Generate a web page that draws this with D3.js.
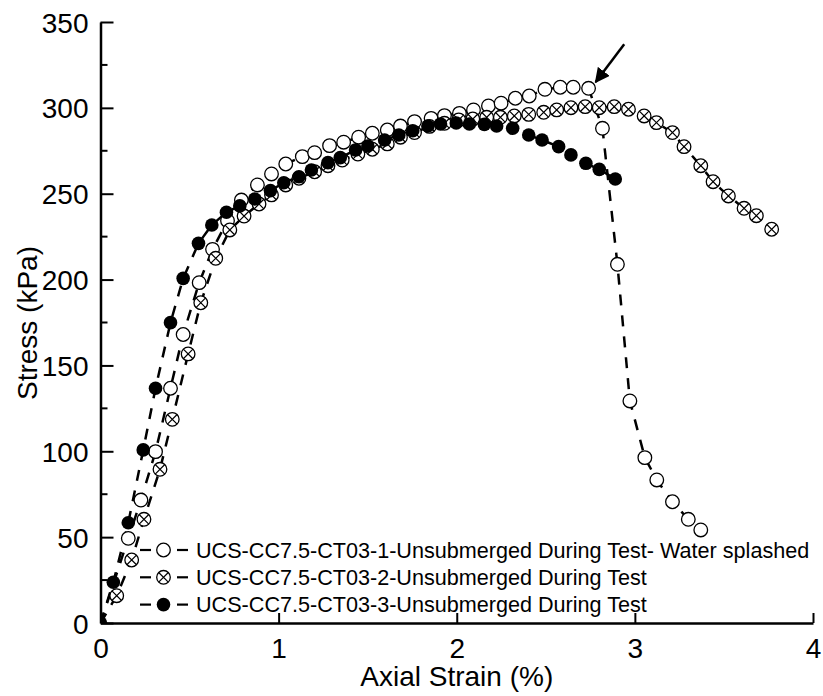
<!DOCTYPE html>
<html>
<head>
<meta charset="utf-8">
<script src="https://cdn.jsdelivr.net/npm/d3@7"></script>
<style>
  body { margin: 0; background: #fff; }
  svg { font-family: "Liberation Sans", Arial, sans-serif; }
</style>
</head>
<body>
<div id="chart"></div>
<script>
// Stress-strain data (strain in %, stress in kPa)
var s1Strain = [0, 0.156, 0.227, 0.309, 0.393, 0.464, 0.554, 0.629, 0.713, 0.791, 0.881, 0.96, 1.04, 1.133, 1.202, 1.286, 1.365, 1.449, 1.526, 1.61, 1.684, 1.763, 1.856, 1.931, 2.015, 2.094, 2.178, 2.249, 2.329, 2.407, 2.495, 2.581, 2.654, 2.74, 2.818, 2.902, 2.972, 3.056, 3.123, 3.211, 3.3, 3.37, 3.44];
var s1Stress = [0, 49.3, 71.6, 99.8, 136.7, 168, 198.2, 217.6, 234.3, 246.3, 255.1, 261.5, 267.3, 271.6, 273.9, 278, 280, 282.9, 285.2, 287.1, 289.4, 292, 293.9, 295.5, 296.8, 298.8, 301.1, 302.7, 305.6, 306.9, 310.8, 312, 312, 311.4, 288.1, 208.9, 129.3, 96.3, 83.3, 70.6, 60.4, 54.2, 50];

var s2Strain = [0, 0.091, 0.175, 0.244, 0.334, 0.403, 0.492, 0.563, 0.647, 0.726, 0.806, 0.89, 0.96, 1.04, 1.114, 1.202, 1.277, 1.357, 1.445, 1.526, 1.61, 1.684, 1.763, 1.847, 1.931, 2.011, 2.09, 2.168, 2.245, 2.323, 2.404, 2.488, 2.561, 2.641, 2.721, 2.8, 2.884, 2.964, 3.052, 3.121, 3.211, 3.276, 3.37, 3.439, 3.525, 3.613, 3.682, 3.768];
var s2Stress = [0, 15.9, 36.7, 60.4, 89.5, 118.6, 156.7, 186.5, 212.4, 228.9, 237, 244, 249.3, 255.1, 259, 262.8, 266.3, 269.6, 273.1, 275.9, 279, 282.9, 285.6, 289.2, 291, 293, 293.5, 294.5, 294.5, 295.3, 296.2, 297.4, 298.8, 300.1, 300.7, 300.1, 300.7, 299.2, 295.3, 291.4, 285.6, 277.4, 266.3, 257, 248.7, 241.5, 237.2, 229.3];

var s3Strain = [0, 0.072, 0.156, 0.24, 0.309, 0.393, 0.464, 0.55, 0.625, 0.707, 0.782, 0.866, 0.954, 1.029, 1.114, 1.184, 1.277, 1.346, 1.432, 1.501, 1.595, 1.675, 1.753, 1.838, 1.909, 1.997, 2.071, 2.155, 2.224, 2.314, 2.404, 2.479, 2.572, 2.641, 2.725, 2.8, 2.89];
var s3Stress = [0, 23.7, 58.4, 100.8, 136.7, 174.9, 200.7, 221.1, 231.8, 239.2, 242.9, 246.9, 251.8, 256.4, 259.9, 263.8, 268.1, 271, 275.5, 277.8, 281.3, 284.2, 286.7, 289.4, 290.6, 291.2, 290.6, 290.4, 289.4, 288.1, 284.2, 281.3, 277.4, 272.6, 267.7, 264.2, 258.6];

var seriesNames = [
  "UCS-CC7.5-CT03-1-Unsubmerged During Test- Water splashed",
  "UCS-CC7.5-CT03-2-Unsubmerged During Test",
  "UCS-CC7.5-CT03-3-Unsubmerged During Test"
];
var markerTypes = ["open", "cross", "filled"];

var xTicks = [0, 1, 2, 3, 4];
var yTicks = [0, 50, 100, 150, 200, 250, 300, 350];
var yMinorTicks = [25, 75, 125, 175, 225, 275, 325];

// arrow annotation (data units): tail -> head
var arrowFrom = [2.94, 337];
var arrowTo = [2.78, 315];

// chart setup
var svgWidth = 823;
var svgHeight = 696;
var margin = { top: 22, right: 10, bottom: 73, left: 100.5 };
var width = 813 - margin.left;
var height = svgHeight - margin.top - margin.bottom;

var svg = d3.select("#chart")
  .append("svg")
  .attr("width", svgWidth)
  .attr("height", svgHeight);

svg.append("rect").attr("width", svgWidth).attr("height", svgHeight).attr("fill", "#fff");

var chartGroup = svg.append("g")
  .attr("transform", `translate(${margin.left}, ${margin.top})`);

var xScale = d3.scaleLinear().domain([0, 4]).range([0, width]);
var yScale = d3.scaleLinear().domain([0, 350]).range([height, 0]);

svg.append("defs").append("clipPath").attr("id", "plotclip")
  .append("rect").attr("x", 0).attr("y", -20).attr("width", width + 20).attr("height", height + 20);

var series = [
  { x: s1Strain, y: s1Stress, lineOnlyTail: 1 },
  { x: s2Strain, y: s2Stress, lineOnlyTail: 0 },
  { x: s3Strain, y: s3Stress, lineOnlyTail: 0 }
].map(function(s, i) {
  var pts = s.x.map(function(v, j) { return { x: v, y: s.y[j], idx: j }; });
  return { pts: pts, type: markerTypes[i], tail: s.lineOnlyTail };
});

var line = d3.line().x(d => xScale(d.x)).y(d => yScale(d.y));

var plot = chartGroup.append("g").attr("clip-path", "url(#plotclip)");

var R = 6.8;

function drawMarker(g, type) {
  if (type === "filled") {
    g.append("circle").attr("r", R).attr("fill", "#000");
  } else {
    g.append("circle").attr("r", R).attr("fill", "#fff")
      .attr("stroke", "#000").attr("stroke-width", 1.3);
    if (type === "cross") {
      var k = R * 0.7071;
      g.append("path")
        .attr("d", `M${-k},${-k}L${k},${k}M${-k},${k}L${k},${-k}`)
        .attr("stroke", "#000").attr("stroke-width", 1.2);
    }
  }
}

series.forEach(function(s) {
  plot.append("path")
    .datum(s.pts)
    .attr("fill", "none")
    .attr("stroke", "#000")
    .attr("stroke-width", 2.5)
    .attr("stroke-dasharray", "11,10")
    .attr("d", line);
});

series.forEach(function(s) {
  var markPts = s.pts.filter(function(d) {
    if (s.tail && d.idx >= s.pts.length - s.tail) return false;
    if (d.x === 0 && s.type !== "filled") return false;
    return true;
  });
  plot.selectAll(null)
    .data(markPts)
    .enter()
    .append("g")
    .attr("transform", d => `translate(${xScale(d.x)},${yScale(d.y)})`)
    .each(function() { drawMarker(d3.select(this), s.type); });
});

// axes
var bottomAxis = d3.axisBottom(xScale).tickValues(xTicks).tickSizeInner(-10).tickSizeOuter(0).tickPadding(15).tickFormat(d3.format("d"));
var leftAxis = d3.axisLeft(yScale).tickValues(yTicks).tickSizeInner(-13).tickSizeOuter(0).tickPadding(12).tickFormat(d3.format("d"));

var xAxis = chartGroup.append("g")
  .attr("transform", `translate(0, ${height})`)
  .call(bottomAxis);

var yAxis = chartGroup.append("g").call(leftAxis);

yAxis.selectAll(".minor")
  .data(yMinorTicks)
  .enter()
  .append("line")
  .attr("class", "minor")
  .attr("x1", 0).attr("x2", 7)
  .attr("y1", d => yScale(d)).attr("y2", d => yScale(d))
  .attr("stroke", "#000").attr("stroke-width", 2);

[xAxis, yAxis].forEach(function(a) {
  a.select(".domain").attr("stroke", "#000").attr("stroke-width", 2.5);
  a.selectAll(".tick line").attr("stroke", "#000").attr("stroke-width", 2);
  a.selectAll(".tick text")
    .attr("fill", "#000")
    .style("font-size", "28px")
    .style("font-family", "'Liberation Sans', Arial, sans-serif");
});
yAxis.selectAll(".tick text").attr("dy", "0.36em");
xAxis.selectAll(".tick text").attr("dy", "0.71em");

// axis titles
chartGroup.append("text")
  .attr("x", width / 2)
  .attr("y", height + 63)
  .attr("text-anchor", "middle")
  .style("font-size", "28px")
  .attr("fill", "#000")
  .text("Axial Strain (%)");

chartGroup.append("text")
  .attr("transform", `translate(${-64}, ${301}) rotate(-90)`)
  .attr("text-anchor", "middle")
  .style("font-size", "28px")
  .attr("fill", "#000")
  .text("Stress (kPa)");

// arrow annotation
svg.select("defs").append("marker")
  .attr("id", "arrowhead")
  .attr("viewBox", "0 0 10 10")
  .attr("refX", 9).attr("refY", 5)
  .attr("markerWidth", 6).attr("markerHeight", 6)
  .attr("markerUnits", "strokeWidth")
  .attr("orient", "auto")
  .append("path").attr("d", "M0,0L10,5L0,10Z").attr("fill", "#000");

chartGroup.append("line")
  .attr("x1", xScale(arrowFrom[0])).attr("y1", yScale(arrowFrom[1]))
  .attr("x2", xScale(arrowTo[0])).attr("y2", yScale(arrowTo[1]))
  .attr("stroke", "#000").attr("stroke-width", 2.5)
  .attr("marker-end", "url(#arrowhead)");

// legend
var legend = svg.append("g").attr("transform", "translate(138, 550)");
var legendRows = legend.selectAll("g")
  .data(seriesNames)
  .enter()
  .append("g")
  .attr("transform", (d, i) => `translate(0, ${i * 27.3})`);

legendRows.append("line").attr("x1", 2).attr("x2", 13).attr("y1", 0).attr("y2", 0)
  .attr("stroke", "#000").attr("stroke-width", 2.2);
legendRows.append("line").attr("x1", 39).attr("x2", 50).attr("y1", 0).attr("y2", 0)
  .attr("stroke", "#000").attr("stroke-width", 2.2);
legendRows.each(function(d, i) {
  var g = d3.select(this).append("g").attr("transform", "translate(25.5,0)");
  drawMarker(g, markerTypes[i]);
});
legendRows.append("text")
  .attr("x", 58)
  .attr("y", 0)
  .attr("dy", "0.35em")
  .style("font-size", "21.6px")
  .attr("fill", "#000")
  .text(d => d);
</script>
</body>
</html>
